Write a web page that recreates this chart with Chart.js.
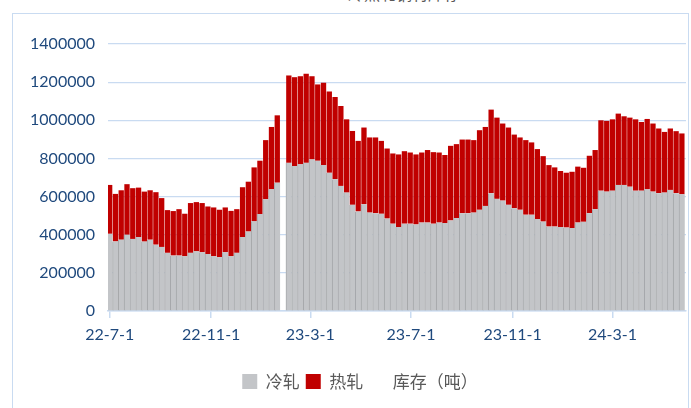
<!DOCTYPE html>
<html>
<head>
<meta charset="utf-8">
<script src="https://cdn.jsdelivr.net/npm/chart.js@4.4.1/dist/chart.umd.min.js"></script>
<style>
html, body { margin: 0; padding: 0; background: #fff; }
#wrap { position: relative; width: 691px; height: 408px; overflow: hidden; }
#frame { position: absolute; left: 12px; top: 13px; width: 677px; height: 430px; border: 1.5px solid #c9dbf1; box-sizing: border-box; }
#title { position: absolute; top: -15px; left: 348px; font: 16px "Noto Sans CJK SC"; line-height: 16px; color: #595959; white-space: nowrap; }
canvas { position: absolute; left: 0; top: 0; }
</style>
</head>
<body>
<div id="wrap">
  <div id="frame"></div>
  <div id="title">冷热轧钢材库存</div>
  <canvas id="stockChart" width="691" height="408"></canvas>
</div>
<script>
// weekly data, first week 2022-07-01, one week missing (spring festival)
const startDate = [2022, 7, 1];
const tickLabels = ['22-7-1', '22-11-1', '23-3-1', '23-7-1', '23-11-1', '24-3-1'];
const legendNames = ['冷轧', '热轧'];
const unitLabel = '库存（吨）';

const coldRolled = [
    405000, 365000, 374000, 400000, 378000, 388000, 364000, 374000, 348000, 336000,
    305000, 291000, 291000, 287000, 305000, 313000, 308000, 299000, 287000, 282000,
    308000, 287000, 305000, 388000, 417000, 470000, 508000, 586000, 638000, 673000,
    null, 777000, 760000, 769000, 777000, 795000, 788000, 765000, 725000, 691000,
    656000, 621000, 557000, 522000, 560000, 516000, 513000, 510000, 485000, 458000,
    440000, 458000, 458000, 454000, 464000, 464000, 458000, 464000, 461000, 475000,
    487000, 513000, 513000, 516000, 531000, 551000, 618000, 588000, 579000, 557000,
    539000, 531000, 505000, 505000, 482000, 469000, 443000, 443000, 440000, 438000,
    435000, 464000, 468000, 513000, 534000, 631000, 626000, 631000, 661000, 661000,
    652000, 631000, 631000, 638000, 626000, 618000, 621000, 635000, 618000, 612000
];
const hotRolled = [
    256000, 249000, 259000, 265000, 266000, 259000, 262000, 259000, 275000, 256000,
    224000, 233000, 243000, 223000, 261000, 258000, 258000, 249000, 256000, 249000,
    235000, 238000, 229000, 261000, 261000, 283000, 280000, 310000, 327000, 353000,
    null, 458000, 466000, 462000, 467000, 436000, 400000, 432000, 426000, 431000,
    419000, 384000, 387000, 370000, 402000, 394000, 397000, 382000, 367000, 368000,
    381000, 380000, 373000, 367000, 367000, 380000, 375000, 367000, 357000, 391000,
    388000, 386000, 386000, 380000, 417000, 414000, 438000, 426000, 404000, 405000,
    386000, 379000, 391000, 379000, 367000, 343000, 322000, 310000, 294000, 287000,
    295000, 293000, 283000, 301000, 310000, 369000, 371000, 374000, 374000, 360000,
    362000, 374000, 360000, 369000, 357000, 339000, 318000, 322000, 325000, 319000
];

function daysFromStart(y, m, d) {
    const t0 = Date.UTC(startDate[0], startDate[1] - 1, startDate[2]);
    return Math.round((Date.UTC(y, m - 1, d) - t0) / 86400000);
}

// x position of each week, in days since the first week
const weekDays = coldRolled.map((v, i) => i * 7);
const tickDays = tickLabels.map(s => {
    const p = s.split('-').map(Number);
    return daysFromStart(2000 + p[0], p[1], p[2]);
});

const blue = '#1f497d';
const gridBlue = '#c9dbf1';
const textGray = '#595959';

// the legend sits a little right of centre in the original
const shiftLegend = {
    id: 'shiftLegend',
    afterLayout(chart) {
        if (chart.legend) {
            chart.legend.left += 17;
            chart.legend.right += 17;
        }
    }
};

new Chart(document.getElementById('stockChart'), {
    type: 'bar',
    data: {
        datasets: [
            {
                label: legendNames[0],
                data: coldRolled.map((v, i) => ({ x: weekDays[i], y: v })),
                backgroundColor: '#c3c5c8',
                borderColor: '#a6a8ab',
                borderWidth: { left: 1, right: 0, top: 0, bottom: 0 },
                borderSkipped: false,
                barPercentage: 1,
                categoryPercentage: 1,
                clip: 0
            },
            {
                label: legendNames[1],
                data: hotRolled.map((v, i) => ({ x: weekDays[i], y: v })),
                backgroundColor: '#c00000',
                borderWidth: 0,
                barPercentage: 0.92,
                categoryPercentage: 1,
                clip: 0
            }
        ]
    },
    plugins: [shiftLegend],
    options: {
        responsive: false,
        animation: false,
        layout: { padding: { top: 44, right: 5, bottom: 8, left: 0 } },
        plugins: {
            tooltip: { enabled: false },
            legend: {
                position: 'bottom',
                labels: {
                    color: textGray,
                    font: { family: '"Noto Sans CJK SC"', size: 17 },
                    boxWidth: 15,
                    boxHeight: 15,
                    padding: 6,
                    generateLabels: chart => {
                        const items = Chart.defaults.plugins.legend.labels.generateLabels(chart);
                        items.forEach(it => { it.lineWidth = 0; it.strokeStyle = it.fillStyle; });
                        items.push({
                            text: unitLabel,
                            fillStyle: 'rgba(0,0,0,0)',
                            strokeStyle: 'rgba(0,0,0,0)',
                            lineWidth: 0,
                            hidden: false,
                            datasetIndex: 2
                        });
                        return items;
                    }
                }
            }
        },
        scales: {
            x: {
                type: 'linear',
                stacked: true,
                offset: false,
                min: -2,
                max: 698,
                afterBuildTicks: scale => { scale.ticks = tickDays.map(v => ({ value: v })); },
                afterFit: scale => { scale.height = 56; },
                grid: {
                    offset: false,
                    drawOnChartArea: false,
                    drawTicks: true,
                    tickLength: 7,
                    color: gridBlue,
                    lineWidth: 1.5
                },
                border: { color: gridBlue, width: 1.5 },
                ticks: {
                    autoSkip: false,
                    maxRotation: 0,
                    padding: 7,
                    color: blue,
                    font: { family: 'Lato', size: 16 },
                    callback: (v, i) => tickLabels[i]
                }
            },
            y: {
                stacked: true,
                min: 0,
                max: 1400000,
                afterFit: scale => { scale.width = 108; },
                grid: { color: gridBlue, lineWidth: 1.2, drawTicks: false },
                border: { display: false },
                ticks: {
                    stepSize: 200000,
                    padding: 13,
                    color: blue,
                    font: { family: 'Lato', size: 16 },
                    callback: v => String(v)
                }
            }
        }
    }
});
</script>
</body>
</html>
